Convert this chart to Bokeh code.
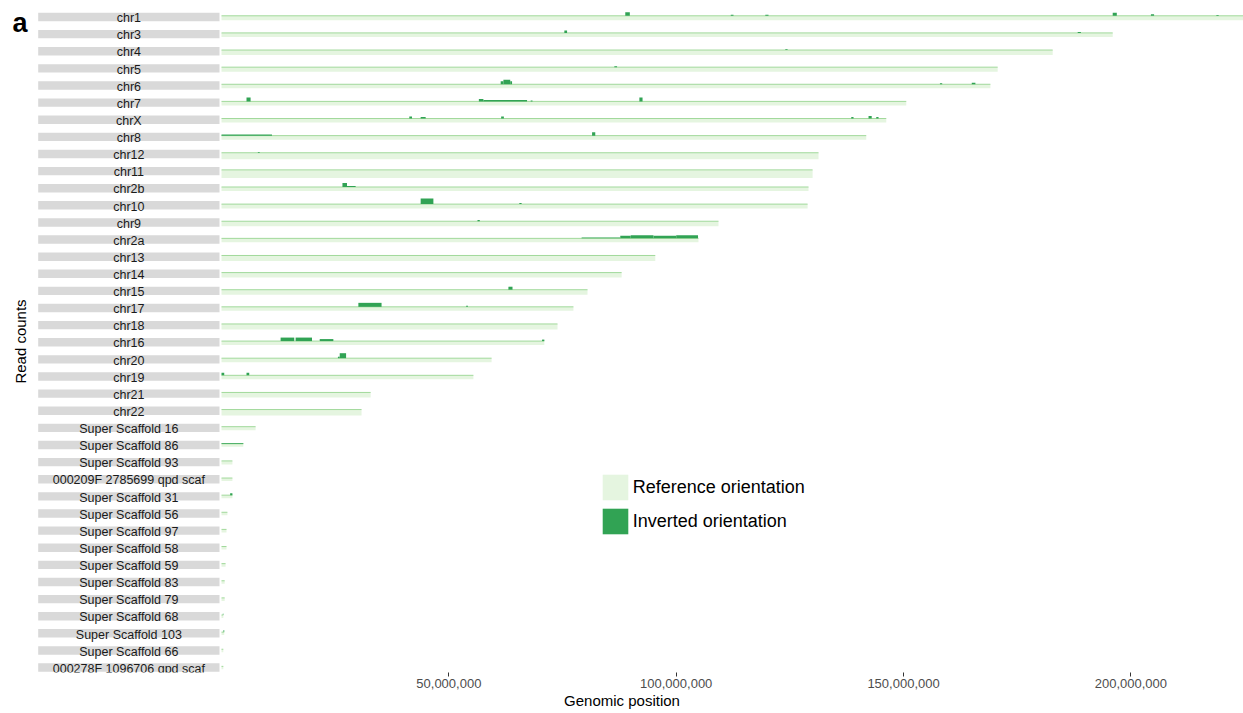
import math
from bokeh.plotting import figure
from bokeh.models import (Range1d, FixedTicker, NumeralTickFormatter, ColumnDataSource,
                          Legend, LegendItem)
from bokeh.core.properties import value
from bokeh.embed import file_html
from bokeh.resources import INLINE

# ---------------- data ----------------
chroms = ["chr1", "chr3", "chr4", "chr5", "chr6", "chr7", "chrX", "chr8", "chr12", "chr11",
          "chr2b", "chr10", "chr9", "chr2a", "chr13", "chr14", "chr15", "chr17", "chr18",
          "chr16", "chr20", "chr19", "chr21", "chr22",
          "Super Scaffold 16", "Super Scaffold 86", "Super Scaffold 93",
          "000209F 2785699 qpd scaf", "Super Scaffold 31", "Super Scaffold 56",
          "Super Scaffold 97", "Super Scaffold 58", "Super Scaffold 59", "Super Scaffold 83",
          "Super Scaffold 79", "Super Scaffold 68", "Super Scaffold 103", "Super Scaffold 66",
          "000278F 1096706 qpd scaf"]

# chromosome / scaffold lengths (Mb)
lengths_mb = [226.0, 196.0, 182.8, 170.7, 169.1, 150.6, 146.2, 141.8, 131.3, 130.0,
              129.1, 128.9, 109.3, 104.9, 95.4, 88.0, 80.5, 77.4, 73.9,
              71.0, 59.4, 55.4, 32.8, 30.8,
              7.5, 4.8, 2.4, 2.4, 2.4, 1.3, 1.1, 1.1, 0.9, 0.7, 0.7, 0.4, 0.6, 0.4, 0.4]

# read counts in reference orientation (relative)
ref_counts = [4.5, 4.0, 5.0, 4.5, 4.0, 4.0, 4.0, 4.0, 6.5, 8.0,
              4.0, 4.5, 5.0, 4.0, 5.5, 5.0, 5.0, 4.0, 5.5,
              4.0, 4.0, 4.0, 5.0, 6.0,
              3.5, 3.0, 3.5, 3.0, 3.0, 3.0, 3.0, 3.0, 3.0, 3.0, 3.0, 3.0, 3.0, 3.0, 3.0]

# read counts in inverted orientation (relative), per region
inv_chrom = ["chr1", "chr1", "chr1", "chr1", "chr1", "chr1",
             "chr3", "chr3", "chr4", "chr5",
             "chr6", "chr6", "chr6", "chr6", "chr6",
             "chr7", "chr7", "chr7", "chr7", "chr7",
             "chrX", "chrX", "chrX", "chrX", "chrX", "chrX",
             "chr8", "chr8", "chr12",
             "chr2b", "chr2b", "chr10", "chr10", "chr9",
             "chr2a", "chr2a", "chr2a", "chr2a", "chr2a",
             "chr15", "chr17", "chr17",
             "chr16", "chr16", "chr16", "chr16",
             "chr20", "chr20", "chr19", "chr19",
             "Super Scaffold 86", "Super Scaffold 31", "Super Scaffold 68", "Super Scaffold 103"]
inv_start_mb = [88.8, 112.0, 119.6, 196.0, 204.4, 218.8,
                75.4, 188.3, 124.0, 86.4,
                61.4, 62.0, 63.5, 158.0, 165.0,
                5.5, 56.6, 57.6, 68.0, 91.9,
                41.3, 43.8, 61.5, 138.5, 142.3, 144.0,
                0.0, 81.5, 8.0,
                26.6, 27.6, 43.8, 65.5, 56.3,
                79.2, 87.7, 90.0, 95.0, 100.0,
                63.1, 30.1, 53.8,
                13.0, 16.3, 21.6, 70.5,
                25.6, 26.0, 0.0, 5.5,
                0.0, 1.9, 0.3, 0.45]
inv_end_mb = [89.8, 112.6, 120.3, 196.9, 205.1, 219.3,
              76.0, 189.0, 124.5, 87.0,
              62.0, 63.5, 63.9, 158.5, 165.8,
              6.4, 57.6, 67.2, 68.4, 92.6,
              41.9, 44.9, 62.1, 139.0, 143.0, 144.5,
              11.1, 82.2, 8.4,
              27.6, 29.5, 46.6, 66.0, 56.8,
              87.7, 90.0, 95.0, 100.0, 104.8,
              64.0, 35.2, 54.2,
              16.0, 19.9, 24.6, 71.0,
              26.0, 27.4, 0.6, 6.1,
              4.8, 2.4, 0.4, 0.6]
inv_counts = [3.5, 1.0, 1.0, 3.0, 1.5, 0.8,
              2.5, 1.0, 0.8, 1.0,
              3.0, 4.5, 3.0, 1.0, 1.5,
              4.0, 2.5, 1.5, 1.0, 4.0,
              2.0, 1.5, 2.0, 1.5, 2.5, 1.5,
              1.2, 3.5, 0.8,
              4.0, 1.0, 5.5, 1.0, 1.2,
              0.8, 2.5, 3.0, 2.5, 3.0,
              3.0, 4.0, 1.2,
              3.5, 3.5, 2.0, 1.5,
              1.5, 5.0, 2.5, 2.5,
              0.8, 2.0, 1.5, 2.0]

x_ticks = [50_000_000, 100_000_000, 150_000_000, 200_000_000]
legend_labels = ["Reference orientation", "Inverted orientation"]

# ---------------- layout constants (pixels) ----------------
W, H = 1243, 713
FRAME_H = 672
X0_PX = 221.0          # canvas px of genomic position 0
PX_PER_MB = 4.547
ROW0 = 16.5            # canvas y of first row centre
PITCH = 17.12
STRIP_HALF = 4.2
BASE_OFF = 1.2         # baseline above row centre
LABEL_LIFT = 3.0       # strip label baseline above strip bottom
STRIP_L_PX, STRIP_R_PX = 37.7, 219.0
LIGHT = "#e5f5e0"
DARK = "#31a354"

def px_to_bp(px):
    return (px - X0_PX) / PX_PER_MB * 1e6

row_of = {c: i for i, c in enumerate(chroms)}
centres = [ROW0 + PITCH * i for i in range(len(chroms))]

p = figure(width=W, height=H, output_backend="svg", toolbar_location=None,
           x_range=Range1d(px_to_bp(0), px_to_bp(W)),
           y_range=Range1d(-FRAME_H, 0),
           y_axis_location=None, min_border_left=0, min_border_right=0,
           min_border_top=0, min_border_bottom=H - FRAME_H)
p.xgrid.visible = False
p.ygrid.visible = False
p.outline_line_color = None
p.background_fill_color = "white"

# strips
strip_src = ColumnDataSource(dict(
    left=[px_to_bp(STRIP_L_PX)] * len(chroms),
    right=[px_to_bp(STRIP_R_PX)] * len(chroms),
    top=[-(c - STRIP_HALF) for c in centres],
    bottom=[-(c + STRIP_HALF) for c in centres],
    x=[px_to_bp((STRIP_L_PX + STRIP_R_PX) / 2)] * len(chroms),
    y=[-(c + STRIP_HALF - LABEL_LIFT) for c in centres],
    label=chroms,
))
p.quad(left="left", right="right", top="top", bottom="bottom", source=strip_src,
       fill_color="#d9d9d9", line_color=None)
p.text(x="x", y="y", text="label", source=strip_src, text_font=value("Liberation Sans"),
       text_font_size="12.5px", text_align="center", text_baseline="alphabetic",
       text_color="#1a1a1a")

# reference orientation (below baseline)
bases = [c - BASE_OFF for c in centres]
ref_src = ColumnDataSource(dict(
    left=[0] * len(chroms),
    right=[l * 1e6 for l in lengths_mb],
    top=[-b for b in bases],
    bottom=[-(b + r) for b, r in zip(bases, ref_counts)],
))
ref_r = p.quad(left="left", right="right", top="top", bottom="bottom", source=ref_src,
               fill_color=LIGHT, line_color=None)

# baseline
p.segment(x0=[0] * len(chroms), x1=[l * 1e6 for l in lengths_mb],
          y0=[-b for b in bases], y1=[-b for b in bases],
          line_color="#a1d99b", line_width=1)

# inverted orientation (above baseline)
inv_src = ColumnDataSource(dict(
    left=[s * 1e6 for s in inv_start_mb],
    right=[e * 1e6 for e in inv_end_mb],
    bottom=[-bases[row_of[c]] for c in inv_chrom],
    top=[-(bases[row_of[c]] - h) for c, h in zip(inv_chrom, inv_counts)],
))
inv_r = p.quad(left="left", right="right", top="top", bottom="bottom", source=inv_src,
               fill_color=DARK, line_color=None)

# panel tag and y title
p.text(x=[px_to_bp(19.5)], y=[-22.0], text=["a"], text_font=value("Liberation Sans"),
       text_font_size="27px", text_font_style="bold", text_align="center",
       text_baseline="alphabetic", text_color="black")
p.text(x=[px_to_bp(20)], y=[-341], text=["Read counts"], text_font=value("Liberation Sans"),
       text_font_size="15px", text_align="center", text_baseline="middle",
       angle=math.pi / 2, text_color="black")

# x axis
ax = p.xaxis[0]
ax.ticker = FixedTicker(ticks=x_ticks)
ax.formatter = NumeralTickFormatter(format="0,0")
ax.major_label_text_font = "Liberation Sans"
ax.major_label_text_font_size = "13px"
ax.major_label_text_color = "#4d4d4d"
ax.major_tick_line_color = "#333333"
ax.major_tick_out = 4
ax.major_tick_in = 0
ax.minor_tick_line_color = None
ax.axis_line_color = None
ax.major_label_standoff = 2
ax.axis_label = "Genomic position"
ax.axis_label_text_font = "Liberation Sans"
ax.axis_label_text_font_size = "15px"
ax.axis_label_text_font_style = "normal"
ax.axis_label_text_color = "black"
ax.axis_label_standoff = 1

legend = Legend(items=[LegendItem(label=legend_labels[0], renderers=[ref_r]),
                       LegendItem(label=legend_labels[1], renderers=[inv_r])],
                location=(598.75, 134.75), glyph_width=32, glyph_height=32,
                label_text_font="Liberation Sans", label_text_font_size="18px",
                label_text_color="black",
                label_standoff=2, padding=0, margin=0, spacing=2,
                border_line_color=None, background_fill_alpha=0)
p.add_layout(legend)

open("out.html", "w").write(file_html(p, INLINE))
